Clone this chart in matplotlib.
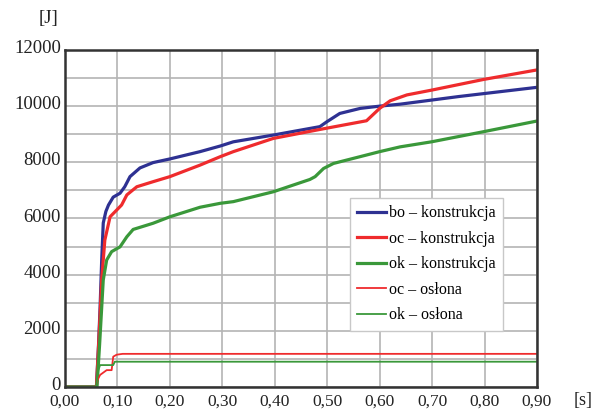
import matplotlib.pyplot as plt
from matplotlib.ticker import MultipleLocator, FuncFormatter
from matplotlib.transforms import ScaledTranslation

plt.rcParams['font.family'] = ['Liberation Serif', 'DejaVu Serif']

# energy curves: time [s] and energy [J]
bo_t = [0.0, 0.060, 0.064, 0.067, 0.070, 0.073, 0.078, 0.083, 0.092, 0.105, 0.114, 0.124,
        0.143, 0.168, 0.20, 0.2575, 0.296, 0.321, 0.397, 0.486, 0.499, 0.524, 0.563, 0.60,
        0.639, 0.75, 0.9]
bo_e = [0, 0, 1500, 2850, 4500, 5840, 6250, 6480, 6760, 6900, 7130, 7490,
        7800, 7990, 8120, 8380, 8580, 8730, 8970, 9270, 9440, 9740, 9920, 10000,
        10070, 10340, 10670]

oc_t = [0.0, 0.060, 0.065, 0.070, 0.076, 0.086, 0.0986, 0.108, 0.118, 0.137, 0.168, 0.20,
        0.2575, 0.296, 0.321, 0.397, 0.486, 0.575, 0.60, 0.62, 0.652, 0.699, 0.798, 0.9]
oc_e = [0, 0, 1800, 3810, 5230, 6060, 6300, 6480, 6840, 7130, 7310, 7490,
        7900, 8200, 8380, 8850, 9170, 9480, 9920, 10190, 10400, 10570, 10950, 11290]

ok_t = [0.0, 0.061, 0.066, 0.073, 0.0795, 0.089, 0.105, 0.118, 0.130, 0.168, 0.20, 0.2575,
        0.296, 0.321, 0.397, 0.467, 0.477, 0.493, 0.512, 0.575, 0.60, 0.639, 0.699, 0.798, 0.9]
ok_e = [0, 0, 1500, 3810, 4520, 4820, 4990, 5350, 5610, 5830, 6060, 6400,
        6540, 6600, 6950, 7390, 7490, 7780, 7960, 8260, 8380, 8550, 8730, 9090, 9470]

oc_os_t = [0.0, 0.058, 0.062, 0.067, 0.0795, 0.089, 0.092, 0.0986, 0.11, 0.9]
oc_os_e = [0, 0, 250, 430, 600, 600, 1080, 1150, 1180, 1180]

ok_os_t = [0.0, 0.059, 0.0636, 0.067, 0.092, 0.095, 0.9]
ok_os_e = [0, 0, 600, 780, 780, 900, 900]

blue = '#2e3192'
red = '#ef2b2d'
green = '#3a983a'

fig = plt.figure(figsize=(5.96, 4.12), dpi=100)
ax = fig.add_axes([0.109, 0.0607, 0.792, 0.818])

ax.plot(bo_t, bo_e, color=blue, lw=2.3, label='bo – konstrukcja')
ax.plot(oc_t, oc_e, color=red, lw=2.3, label='oc – konstrukcja')
ax.plot(ok_t, ok_e, color=green, lw=2.3, label='ok – konstrukcja')
ax.plot(oc_os_t, oc_os_e, color=red, lw=1.3, label='oc – osłona')
ax.plot(ok_os_t, ok_os_e, color=green, lw=1.3, label='ok – osłona')

ax.set_xlim(0, 0.9)
ax.set_ylim(0, 12000)
ax.xaxis.set_major_locator(MultipleLocator(0.1))
ax.yaxis.set_major_locator(MultipleLocator(2000))
ax.yaxis.set_minor_locator(MultipleLocator(1000))
ax.xaxis.set_major_formatter(FuncFormatter(lambda v, p: f"{v:.2f}".replace('.', ',')))
ax.yaxis.set_major_formatter(FuncFormatter(lambda v, p: f"{int(round(v))}"))
ax.grid(True, which='both', color='#b4b4b4', lw=1.2)
ax.set_axisbelow(True)
ax.tick_params(which='both', length=0, labelsize=13.5, colors='#222222')
ax.tick_params(axis='x', pad=5, labelsize=12.5)
ax.tick_params(axis='y', pad=3)
for s in ax.spines.values():
    s.set_color('#333333')
    s.set_linewidth(1.8)

# lift y labels a touch so "0" clears "0,00"
lift = ScaledTranslation(0, 2.5 / 72, fig.dpi_scale_trans)
for lbl in ax.yaxis.get_majorticklabels():
    lbl.set_transform(lbl.get_transform() + lift)

fig.text(48 / 596, 1 - 18 / 412, '[J]', fontsize=13.5, ha='center', va='center', color='#222222')
fig.text(583 / 596, 1 - 401 / 412, '[s]', fontsize=13, ha='center', va='center', color='#222222')

leg = ax.legend(loc='upper left', bbox_to_anchor=(0.604, 0.561), fontsize=11.5,
                handlelength=1.8, handletextpad=0.2, borderpad=0.45, labelspacing=0.6,
                borderaxespad=0, fancybox=False, framealpha=1)
leg.get_frame().set_edgecolor('#c8c8c8')
leg.get_frame().set_linewidth(1.0)

fig.savefig('out.png', dpi=100)
